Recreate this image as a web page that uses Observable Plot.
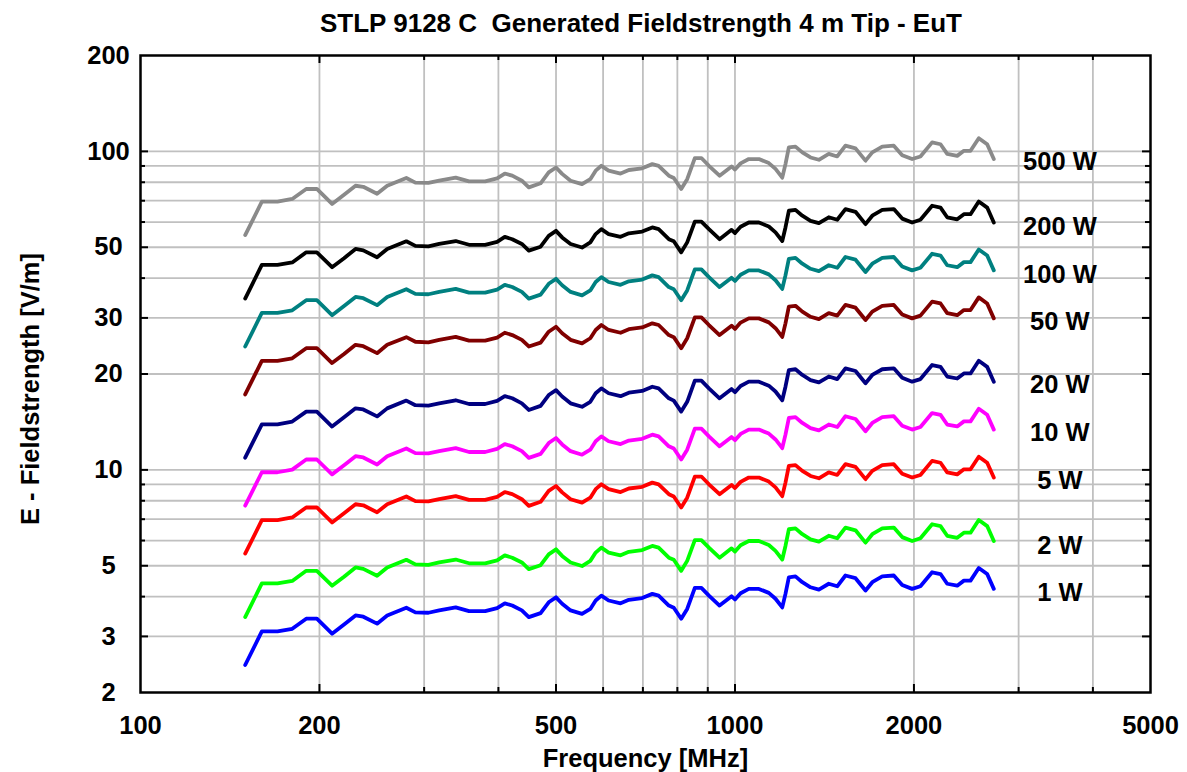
<!DOCTYPE html>
<html>
<head>
<meta charset="utf-8">
<script src="https://cdn.jsdelivr.net/npm/d3@7"></script>
<script src="https://cdn.jsdelivr.net/npm/@observablehq/plot@0.6"></script>
<style>
  html, body { margin: 0; padding: 0; background: #fff; }
  #wrap { position: relative; width: 1187px; height: 772px; font-family: "Liberation Sans", Arial, sans-serif; }
  #title { position: absolute; left: 136px; top: 0; width: 1010px; height: 40px; line-height: 46px;
           text-align: center; font-size: 26px; font-weight: bold; color: #000; white-space: nowrap; }
  #chart { position: absolute; left: 0; top: 40px; }
</style>
</head>
<body>
<div id="wrap">
  <div id="title">STLP 9128 C&nbsp;&nbsp;Generated Fieldstrength 4 m Tip - EuT</div>
  <div id="chart"></div>
</div>
<script>
// Frequency [MHz]
const freq = [150,160,170,180,190,198,210,220,230,237,250,260,280,290,305,318,339,357,380,398,410,422,438,450,471,486,500,512,529,553,571,583,596,613,642,663,698,726,744,774,789,812,831,856,878,904,942,987,1000,1022,1055,1097,1140,1170,1201,1216,1232,1264,1298,1340,1384,1438,1486,1534,1595,1658,1702,1769,1850,1911,1986,2051,2146,2217,2275,2365,2427,2490,2571,2656,2725];

// E-field [V/m] per forward power
const e500W = [54.6,69.5,69.5,70.9,76.2,76.2,68.4,73.1,78.0,77.4,73.6,78.0,82.5,79.8,79.6,80.9,82.7,80.5,80.5,82.3,85.2,83.9,80.9,77.1,79.4,85.9,89.0,85.0,80.9,78.9,81.8,87.0,90.1,87.0,85.2,87.4,88.5,91.2,90.1,83.9,82.5,76.2,81.8,95.3,95.3,90.1,83.9,89.7,87.7,91.7,94.6,94.6,91.9,88.1,82.7,91.2,102.9,103.5,99.3,95.7,94.1,98.2,96.4,104.2,102.2,93.5,99.3,103.5,104.2,97.3,94.6,96.4,106.7,105.3,98.2,96.8,100.4,100.4,110.0,105.3,94.6];
const e200W = [34.5,44.0,44.0,44.8,48.2,48.2,43.3,46.2,49.4,48.9,46.5,49.4,52.2,50.5,50.3,51.2,52.3,50.9,50.9,52.0,53.9,53.0,51.2,48.8,50.2,54.3,56.3,53.7,51.2,49.9,51.8,55.0,57.0,55.0,53.9,55.3,56.0,57.7,57.0,53.0,52.2,48.2,51.8,60.2,60.2,57.0,53.0,56.7,55.4,58.0,59.8,59.8,58.1,55.7,52.3,57.7,65.1,65.5,62.8,60.5,59.5,62.1,61.0,65.9,64.6,59.1,62.8,65.5,65.9,61.5,59.8,61.0,67.5,66.6,62.1,61.2,63.5,63.5,69.6,66.6,59.8];
const e100W = [24.4,31.1,31.1,31.7,34.1,34.1,30.6,32.7,34.9,34.6,32.9,34.9,36.9,35.7,35.6,36.2,37.0,36.0,36.0,36.8,38.1,37.5,36.2,34.5,35.5,38.4,39.8,38.0,36.2,35.3,36.6,38.9,40.3,38.9,38.1,39.1,39.6,40.8,40.3,37.5,36.9,34.1,36.6,42.6,42.6,40.3,37.5,40.1,39.2,41.0,42.3,42.3,41.1,39.4,37.0,40.8,46.0,46.3,44.4,42.8,42.1,43.9,43.1,46.6,45.7,41.8,44.4,46.3,46.6,43.5,42.3,43.1,47.7,47.1,43.9,43.3,44.9,44.9,49.2,47.1,42.3];
const e50W = [17.25,22.0,22.0,22.4,24.1,24.1,21.65,23.1,24.7,24.45,23.25,24.7,26.1,25.25,25.15,25.6,26.15,25.45,25.45,26.0,26.95,26.5,25.6,24.4,25.1,27.15,28.15,26.85,25.6,24.95,25.9,27.5,28.5,27.5,26.95,27.65,28.0,28.85,28.5,26.5,26.1,24.1,25.9,30.1,30.1,28.5,26.5,28.35,27.7,29.0,29.9,29.9,29.05,27.85,26.15,28.85,32.55,32.75,31.4,30.25,29.75,31.05,30.5,32.95,32.3,29.55,31.4,32.75,32.95,30.75,29.9,30.5,33.75,33.3,31.05,30.6,31.75,31.75,34.8,33.3,29.9];
const e20W = [10.92,13.9,13.9,14.18,15.24,15.24,13.68,14.62,15.6,15.48,14.72,15.6,16.5,15.96,15.92,16.18,16.54,16.1,16.1,16.46,17.04,16.78,16.18,15.42,15.88,17.18,17.8,17.0,16.18,15.78,16.36,17.4,18.02,17.4,17.04,17.48,17.7,18.24,18.02,16.78,16.5,15.24,16.36,19.06,19.06,18.02,16.78,17.94,17.54,18.34,18.92,18.92,18.38,17.62,16.54,18.24,20.58,20.7,19.86,19.14,18.82,19.64,19.28,20.84,20.44,18.7,19.86,20.7,20.84,19.46,18.92,19.28,21.34,21.06,19.64,19.36,20.08,20.08,22.0,21.06,18.92];
const e10W = [7.72,9.83,9.83,10.02,10.78,10.78,9.68,10.34,11.04,10.94,10.40,11.04,11.67,11.29,11.26,11.45,11.70,11.38,11.38,11.64,12.05,11.86,11.45,10.91,11.23,12.14,12.59,12.02,11.45,11.16,11.57,12.30,12.74,12.30,12.05,12.36,12.52,12.90,12.74,11.86,11.67,10.78,11.57,13.47,13.47,12.74,11.86,12.68,12.40,12.97,13.38,13.38,13.00,12.46,11.70,12.90,14.55,14.64,14.04,13.53,13.31,13.88,13.63,14.74,14.45,13.22,14.04,14.64,14.74,13.76,13.38,13.63,15.08,14.89,13.88,13.69,14.20,14.20,15.56,14.89,13.38];
const e5W = [5.46,6.95,6.95,7.09,7.62,7.62,6.84,7.31,7.80,7.74,7.36,7.80,8.25,7.98,7.96,8.09,8.27,8.05,8.05,8.23,8.52,8.39,8.09,7.71,7.94,8.59,8.90,8.50,8.09,7.89,8.18,8.70,9.01,8.70,8.52,8.74,8.85,9.12,9.01,8.39,8.25,7.62,8.18,9.53,9.53,9.01,8.39,8.97,8.77,9.17,9.46,9.46,9.19,8.81,8.27,9.12,10.29,10.35,9.93,9.57,9.41,9.82,9.64,10.42,10.22,9.35,9.93,10.35,10.42,9.73,9.46,9.64,10.67,10.53,9.82,9.68,10.04,10.04,11.0,10.53,9.46];
const e2W = [3.45,4.40,4.40,4.48,4.82,4.82,4.33,4.62,4.94,4.89,4.65,4.94,5.22,5.05,5.03,5.12,5.23,5.09,5.09,5.20,5.39,5.30,5.12,4.88,5.02,5.43,5.63,5.37,5.12,4.99,5.18,5.50,5.70,5.50,5.39,5.53,5.60,5.77,5.70,5.30,5.22,4.82,5.18,6.02,6.02,5.70,5.30,5.67,5.54,5.80,5.98,5.98,5.81,5.57,5.23,5.77,6.51,6.55,6.28,6.05,5.95,6.21,6.10,6.59,6.46,5.91,6.28,6.55,6.59,6.15,5.98,6.10,6.75,6.66,6.21,6.12,6.35,6.35,6.96,6.66,5.98];
const e1W = [2.44,3.11,3.11,3.17,3.41,3.41,3.06,3.27,3.49,3.46,3.29,3.49,3.69,3.57,3.56,3.62,3.70,3.60,3.60,3.68,3.81,3.75,3.62,3.45,3.55,3.84,3.98,3.80,3.62,3.53,3.66,3.89,4.03,3.89,3.81,3.91,3.96,4.08,4.03,3.75,3.69,3.41,3.66,4.26,4.26,4.03,3.75,4.01,3.92,4.10,4.23,4.23,4.11,3.94,3.70,4.08,4.60,4.63,4.44,4.28,4.21,4.39,4.31,4.66,4.57,4.18,4.44,4.63,4.66,4.35,4.23,4.31,4.77,4.71,4.39,4.33,4.49,4.49,4.92,4.71,4.23];

const seriesNames = ["500 W","200 W","100 W","50 W","20 W","10 W","5 W","2 W","1 W"];
const seriesColors = ["#8a8a8a","#000000","#008080","#800000","#000080","#ff00ff","#ff0000","#00ff00","#0000ff"];
const seriesValues = [e500W,e200W,e100W,e50W,e20W,e10W,e5W,e2W,e1W];

// label anchor (in data units) for the series names on the right
const labelFreq = 3520;
const labelE = [93.0,57.8,41.1,29.1,18.5,13.1,9.25,5.78,4.12];

// axis ticks
const xTickLabels = [100,200,500,1000,2000,5000];
const xGridValues = [200,300,400,500,600,700,800,900,1000,2000,3000,4000];
const xMinorTicks = [300,400,600,700,800,900,3000,4000];
const yTickLabels = [2,3,5,10,20,30,50,100,200];
const yGridValues = [3,4,5,6,7,8,9,10,20,30,40,50,60,70,80,90,100];
const yMinorTicks = [4,6,7,8,9,40,60,70,80,90];

const rows = seriesNames.flatMap((name, i) =>
  freq.map((f, j) => ({f, e: seriesValues[i][j], name})));
const labelRows = seriesNames.map((name, i) => ({name, f: labelFreq, e: labelE[i]}));

const W = 1187, H = 732, mT = 15, mB = 80, mL = 140, mR = 37;
const plotW = W - mL - mR, plotH = H - mT - mB;
const font = "Liberation Sans, Arial, sans-serif";
const fs = 25.5;
const gridStyle = {stroke: "#c0c0c0", strokeOpacity: 1, strokeWidth: 1.8};

const chart = Plot.plot({
  width: W, height: H,
  marginTop: mT, marginBottom: mB, marginLeft: mL, marginRight: mR,
  style: {fontFamily: font, background: "#fff", color: "#000"},
  x: {type: "log", domain: [100, 5000]},
  y: {type: "log", domain: [2, 200]},
  color: {domain: seriesNames, range: seriesColors},
  marks: [
    Plot.gridX(xGridValues, gridStyle),
    Plot.gridY(yGridValues, gridStyle),
    // inward tick marks
    Plot.tickY(yTickLabels.slice(1, -1), {y: d => d, stroke: "#000", strokeWidth: 2, insetRight: plotW - 8}),
    Plot.tickY(yMinorTicks, {y: d => d, stroke: "#000", strokeWidth: 2, insetRight: plotW - 5}),
    Plot.tickY(yTickLabels.slice(1, -1), {y: d => d, stroke: "#000", strokeWidth: 2, insetLeft: plotW - 8}),
    Plot.tickY(yMinorTicks, {y: d => d, stroke: "#000", strokeWidth: 2, insetLeft: plotW - 5}),
    Plot.tickX(xTickLabels.slice(1, -1), {x: d => d, stroke: "#000", strokeWidth: 2, insetTop: plotH - 8}),
    Plot.tickX(xMinorTicks, {x: d => d, stroke: "#000", strokeWidth: 2, insetTop: plotH - 5}),
    Plot.tickX(xTickLabels.slice(1, -1), {x: d => d, stroke: "#000", strokeWidth: 2, insetBottom: plotH - 8}),
    Plot.tickX(xMinorTicks, {x: d => d, stroke: "#000", strokeWidth: 2, insetBottom: plotH - 5}),
    Plot.line(rows, {x: "f", y: "e", z: "name", stroke: "name", strokeWidth: 3.8,
                     strokeLinejoin: "round", strokeLinecap: "round"}),
    Plot.text(labelRows, {x: "f", y: "e", text: "name", fontSize: fs, fontWeight: "bold",
                          fill: "#000", textAnchor: "middle", lineAnchor: "middle"}),
    Plot.frame({stroke: "#000", strokeWidth: 2.5}),
    Plot.axisX(xTickLabels, {tickSize: 0, tickPadding: 23, fontSize: fs, fontWeight: "bold",
                             tickFormat: d => String(d), label: null}),
    Plot.axisY(yTickLabels, {tickSize: 0, tickPadding: 32, textAnchor: "middle", fontSize: fs,
                             fontWeight: "bold", tickFormat: d => String(d), label: null}),
    Plot.text(["Frequency [MHz]"], {frameAnchor: "bottom", dy: 66, textAnchor: "middle", lineAnchor: "middle",
                                    fontSize: fs, fontWeight: "bold", fill: "#000"}),
    Plot.text(["E - Fieldstrength [V/m]"], {frameAnchor: "left", dx: -110, dy: 15, rotate: -90,
                                           textAnchor: "middle", lineAnchor: "middle",
                                           fontSize: fs, fontWeight: "bold", fill: "#000"})
  ]
});
document.getElementById("chart").appendChild(chart);
</script>
</body>
</html>
